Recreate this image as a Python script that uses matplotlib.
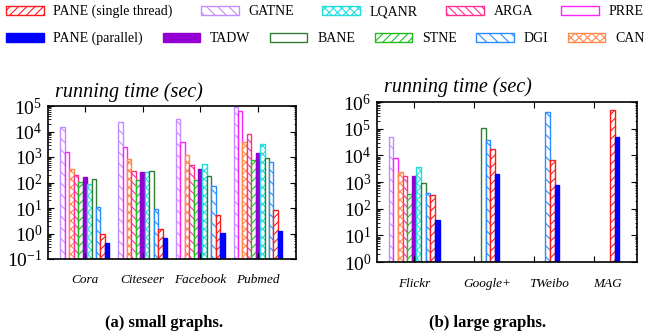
import matplotlib.pyplot as plt
import matplotlib.transforms as mtransforms
from matplotlib.ticker import LogLocator
import numpy as np

# Times-like serif everywhere
plt.rcParams["font.family"] = ["Liberation Serif", "DejaVu Serif"]
plt.rcParams["mathtext.fontset"] = "stix"
plt.rcParams["hatch.linewidth"] = 0.8

nan = np.nan

small_sets = ["Cora", "Citeseer", "Facebook", "Pubmed"]
large_sets = ["Flickr", "Google+", "TWeibo", "MAG"]

# bar order inside each group
methods = ["GATNE", "PRRE", "CAN", "ARGA", "STNE", "TADW", "LQANR", "BANE", "DGI",
           "PANE (single thread)", "PANE (parallel)"]

# running time (sec) on small graphs
gatne_small = [1.5e4, 2.3e4, 3.2e4, 9.0e4]
prre_small = [1600, 2400, 3800, 6.6e4]
can_small = [350, 870, 1150, 3800]
arga_small = [195, 290, 470, 8300]
stne_small = [100, 130, 120, 740]
tadw_small = [160, 260, 350, 1450]
lqanr_small = [90, 250, 510, 3100]
bane_small = [140, 270, 175, 950]
dgi_small = [11, 9, 70, 660]
pane_single_small = [0.85, 1.45, 5.1, 8.5]
pane_parallel_small = [0.32, 0.58, 0.95, 1.2]

# running time (sec) on large graphs (nan = not finished)
gatne_large = [5.0e4, nan, nan, nan]
prre_large = [8100, nan, nan, nan]
can_large = [2300, nan, nan, nan]
arga_large = [1700, nan, nan, nan]
stne_large = [350, nan, nan, nan]
tadw_large = [1650, nan, nan, nan]
lqanr_large = [3500, nan, nan, nan]
bane_large = [950, 1.07e5, nan, nan]
dgi_large = [380, 3.9e4, 4.2e5, nan]
pane_single_large = [320, 1.8e4, 6600, 4.9e5]
pane_parallel_large = [37, 2000, 750, 5.0e4]

small_data = [gatne_small, prre_small, can_small, arga_small, stne_small, tadw_small,
              lqanr_small, bane_small, dgi_small, pane_single_small, pane_parallel_small]
large_data = [gatne_large, prre_large, can_large, arga_large, stne_large, tadw_large,
              lqanr_large, bane_large, dgi_large, pane_single_large, pane_parallel_large]

# colour, hatch, solid fill
styles = {
    "GATNE": ("#c58cff", "\\\\\\", False),
    "PRRE": ("#ff22ff", "", False),
    "CAN": ("#ff8a4c", "xxxx", False),
    "ARGA": ("#ff2f8f", "\\\\\\\\", False),
    "STNE": ("#22bb22", "////", False),
    "TADW": ("#9400d3", "", True),
    "LQANR": ("#22dddd", "xxxx", False),
    "BANE": ("#2e7d32", "", False),
    "DGI": ("#2a8cff", "\\\\\\", False),
    "PANE (single thread)": ("#ff1a1a", "////", False),
    "PANE (parallel)": ("#0000ff", "", True),
}

w = 0.077

fig = plt.figure(figsize=(6.48, 3.35), dpi=100)
ax1 = fig.add_axes([48 / 648, 76 / 335, 248 / 648, 153 / 335])
ax2 = fig.add_axes([377 / 648, 73 / 335, 260 / 648, 160 / 335])

handles = {}


def draw(ax, data, sets, ylo, yhi, xlo, xhi, shift):
    centers = np.arange(len(sets))
    for k, (name, vals) in enumerate(zip(methods, data)):
        color, hatch, solid = styles[name]
        vals = np.array(vals, dtype=float)
        ok = ~np.isnan(vals)
        x = centers + (k - 5) * w
        b = ax.bar(x[ok], vals[ok], width=w, bottom=ylo, log=True,
                   facecolor=color if solid else "white", edgecolor=color,
                   hatch=hatch, linewidth=1.0, label=name)
        handles.setdefault(name, b)
    ax.set_yscale("log")
    ax.set_ylim(ylo, yhi)
    ax.yaxis.set_major_locator(LogLocator(base=10, numticks=20))
    ax.yaxis.set_minor_locator(LogLocator(base=10, subs=np.arange(2, 10), numticks=20))
    ax.set_xlim(xlo, xhi)
    ax.set_xticks(centers)
    ax.set_xticklabels([])
    trans = mtransforms.blended_transform_factory(ax.transData, ax.transAxes)
    for c, s, name in zip(centers, shift, sets):
        ax.text(c + s, -0.135, name, transform=trans, ha="center", va="center",
                fontsize=9.5, style="italic")
    ax.tick_params(axis="both", which="both", direction="in", top=True, right=True)
    ax.tick_params(axis="y", which="major", length=4, labelsize=14, pad=4)
    ax.tick_params(axis="y", which="minor", length=1.8, width=0.6)
    ax.tick_params(axis="x", length=4)
    for sp in ax.spines.values():
        sp.set_linewidth(1.2)


draw(ax1, small_data, small_sets, 1e-1, 1e5, -0.64, 3.66, [0, 0, 0, 0])
draw(ax2, large_data, large_sets, 1, 1e6, -0.62, 3.72, [0, 0.22, 0.25, 0.23])

fig.text(55 / 648, 1 - 92 / 335, "running time (sec)", style="italic", fontsize=14.5,
         va="center")
fig.text(384 / 648, 1 - 87 / 335, "running time (sec)", style="italic", fontsize=14.5,
         va="center")

# legend, two rows
row1 = ["PANE (single thread)", "GATNE", "LQANR", "ARGA", "PRRE"]
row2 = ["PANE (parallel)", "TADW", "BANE", "STNE", "DGI", "CAN"]
for row, top, sp in [(row1, 5, 2.05), (row2, 32, 1.42)]:
    fig.legend([handles[n] for n in row], row, ncol=len(row), loc="upper left",
               bbox_to_anchor=(6 / 648, 1 - top / 335), frameon=False, fontsize=10,
               handlelength=2.7, handleheight=0.7, handletextpad=0.7,
               columnspacing=sp, borderpad=0, borderaxespad=0)

fig.text(164 / 648, 1 - 323 / 335, "(a) small graphs.", weight="bold", fontsize=12,
         ha="center", va="center")
fig.text(488 / 648, 1 - 323 / 335, "(b) large graphs.", weight="bold", fontsize=12,
         ha="center", va="center")

fig.savefig("out.png", dpi=100)
